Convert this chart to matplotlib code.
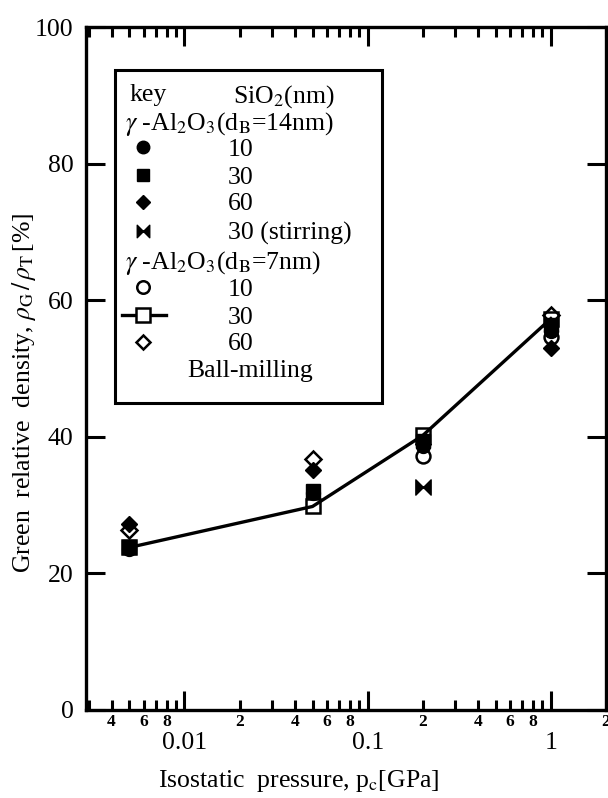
import numpy as np
import matplotlib
matplotlib.use("Agg")
import matplotlib.pyplot as plt
from matplotlib.path import Path
from matplotlib.patches import Rectangle
from matplotlib.ticker import FixedLocator, FixedFormatter, LogLocator, FuncFormatter

plt.rcParams['font.family'] = ['Liberation Serif', 'DejaVu Serif']
plt.rcParams['mathtext.fontset'] = 'stix'

# --- data ---
pressure = [0.005, 0.05, 0.2, 1.0]            # GPa

# gamma-Al2O3, d_B = 14 nm
d14_sio2_10 = [23.6, 31.8, 38.6, 55.5]
d14_sio2_30 = [23.8, 32.0, 39.4, 56.3]
d14_sio2_60 = [27.3, 35.2, 38.9, 53.0]
stir_p = [0.2]
stir_sio2_30 = [32.7]

# gamma-Al2O3, d_B = 7 nm
d7_p10 = [0.2, 1.0]
d7_sio2_10 = [37.2, 54.6]
d7_sio2_30 = [23.8, 29.8, 40.2, 57.3]
d7_p60 = [0.005, 0.05, 1.0]
d7_sio2_60 = [26.4, 36.7, 57.9]

x_major = [0.01, 0.1, 1]
x_major_labels = ["0.01", "0.1", "1"]
y_ticks = [0, 20, 40, 60, 80, 100]

# bow-tie marker for the stirring run
bowtie = Path([(-1, 1), (1, -1), (1, 1), (-1, -1), (-1, 1)],
              [Path.MOVETO, Path.LINETO, Path.LINETO, Path.LINETO, Path.CLOSEPOLY])

fig = plt.figure(figsize=(6.08, 7.98), dpi=100)
L, R, B, T = 86, 606, 710, 27          # axes box in pixels
ax = fig.add_axes([L / 608, (798 - B) / 798, (R - L) / 608, (B - T) / 798])

# line + open symbols first, filled ones on top
ax.plot(pressure, d7_sio2_30, '-', color='k', lw=2.4, zorder=2)
ax.plot(pressure, d7_sio2_30, 's', ms=10.5, mfc='none', mec='k', mew=1.8, zorder=3)
ax.plot(d7_p10, d7_sio2_10, 'o', ms=10, mfc='none', mec='k', mew=1.8, zorder=3)
ax.plot(d7_p60, d7_sio2_60, 'D', ms=8.5, mfc='none', mec='k', mew=1.8, zorder=3)
ax.plot(pressure, d14_sio2_10, 'o', ms=10, color='k', zorder=4)
ax.plot(pressure, d14_sio2_30, 's', ms=10.5, color='k', zorder=4)
ax.plot(pressure, d14_sio2_60, 'D', ms=8.5, color='k', zorder=4)
ax.plot(stir_p, stir_sio2_30, marker=bowtie, ls='none', ms=11, color='k', zorder=4)

ax.set_xscale('log')
ax.set_xlim(0.0029, 2.0)
ax.set_ylim(0, 100)

ax.xaxis.set_major_locator(FixedLocator(x_major))
ax.xaxis.set_major_formatter(FixedFormatter(x_major_labels))
ax.xaxis.set_minor_locator(LogLocator(base=10, subs=range(2, 10)))

def minor_fmt(v, pos):
    m = int(round(v / 10 ** np.floor(np.log10(v))))
    return str(m) if m in (2, 4, 6, 8) else ""

ax.xaxis.set_minor_formatter(FuncFormatter(minor_fmt))
ax.yaxis.set_major_locator(FixedLocator(y_ticks))

ax.tick_params(which='both', direction='in', top=True, right=True, width=2.2)
ax.tick_params(axis='x', which='major', length=14, pad=16, labelsize=18.5)
ax.tick_params(axis='x', which='minor', length=7, pad=3, labelsize=12.5)
ax.tick_params(axis='y', which='major', length=14, pad=9, labelsize=18.5)
for s in ax.spines.values():
    s.set_linewidth(2.4)
plt.setp(ax.get_xminorticklabels(), fontweight='bold')

ax.set_ylabel(r"Green  relative  density, $\rho_{\rm G}\,/\,\rho_{\rm T}\,$[%]", fontsize=18.5)
ax.yaxis.set_label_coords(-0.093, 0.465)
ax.set_xlabel(r"Isostatic  pressure, p$_{\rm c}$[GPa]", fontsize=18.5)
ax.xaxis.set_label_coords(0.41, -0.085)

# --- key box (axes coords from pixel positions) ---
def px(xp, yp):
    return (xp - L) / (R - L), (B - yp) / (B - T)

x0, y0 = px(115, 403)
x1, y1 = px(382, 70)
ax.add_patch(Rectangle((x0, y0), x1 - x0, y1 - y0, transform=ax.transAxes,
                       fill=False, lw=2.2, ec='k', zorder=5))

fs = 18.5
mx, tx = 143, 228
rows = [93, 120, 147, 175, 202, 231, 259, 287, 315, 342, 368]

def ktext(xp, yp, s, ha='left'):
    ax.text(*px(xp, yp), s, transform=ax.transAxes, fontsize=fs,
            ha=ha, va='center_baseline', zorder=6)

def kmark(yp, **kw):
    ax.plot(*[[c] for c in px(mx, yp)], transform=ax.transAxes, ls='none',
            color='k', zorder=6, clip_on=False, **kw)

ktext(130, rows[0], "key")
ktext(233, rows[0], r"SiO$_2$(nm)")
ktext(125, rows[1], r"$\gamma$ -Al$_2$O$_3$(d$_{\rm B}$=14nm)")
kmark(rows[2], marker='o', ms=9)
ktext(tx, rows[2], "10")
kmark(rows[3], marker='s', ms=9)
ktext(tx, rows[3], "30")
kmark(rows[4], marker='D', ms=7.5)
ktext(tx, rows[4], "60")
kmark(rows[5], marker=bowtie, ms=9)
ktext(tx, rows[5], "30 (stirring)")
ktext(125, rows[6], r"$\gamma$ -Al$_2$O$_3$(d$_{\rm B}$=7nm)")
kmark(rows[7], marker='o', ms=9, mfc='none', mew=1.8)
ktext(tx, rows[7], "10")
xa, ya = px(122, rows[8])
xb, _ = px(166, rows[8])
ax.plot([xa, xb], [ya, ya], '-', color='k', lw=2.4, transform=ax.transAxes, zorder=6)
kmark(rows[8], marker='s', ms=9.5, mfc='white', mew=1.8)
ktext(tx, rows[8], "30")
kmark(rows[9], marker='D', ms=7.5, mfc='none', mew=1.8)
ktext(tx, rows[9], "60")
ktext(250, rows[10], "Ball-milling", ha='center')

fig.savefig("out.png", dpi=100)
